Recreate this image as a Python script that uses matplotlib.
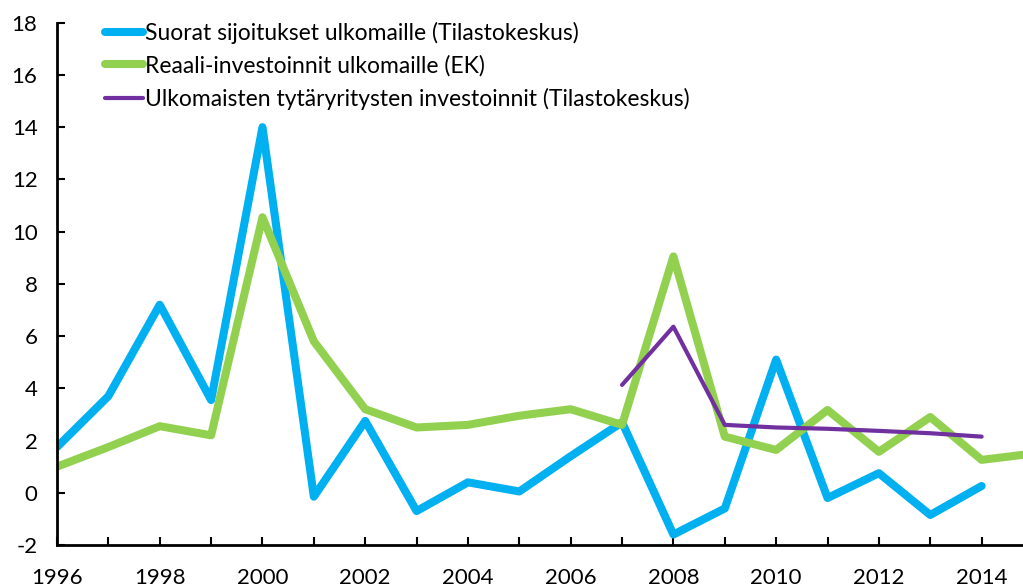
import matplotlib
matplotlib.use("Agg")
import matplotlib.pyplot as plt

years = list(range(1996, 2016))
suorat = [1.75, 3.7, 7.2, 3.55, 14.0, -0.15, 2.75, -0.7, 0.4, 0.05, 1.4, 2.7,
          -1.6, -0.6, 5.1, -0.2, 0.75, -0.85, 0.26]
reaali = [1.0, 1.75, 2.55, 2.2, 10.55, 5.8, 3.2, 2.5, 2.6, 2.95, 3.2, 2.6,
          9.05, 2.15, 1.64, 3.17, 1.57, 2.9, 1.26, 1.5]
tytar_years = list(range(2007, 2015))
tytar = [4.13, 6.36, 2.6, 2.5, 2.45, 2.37, 2.28, 2.15]
labels = ["Suorat sijoitukset ulkomaille (Tilastokeskus)",
          "Reaali-investoinnit ulkomaille (EK)",
          "Ulkomaisten tytäryritysten investoinnit (Tilastokeskus)"]

plt.rcParams['font.family'] = ['Lato', 'DejaVu Sans']
W, H = 1023, 587
fig = plt.figure(figsize=(W/100, H/100), dpi=100)
left, right, bottom, top = 57, 1033, 545, 22.7
ax = fig.add_axes([left/W, 1-bottom/H, (right-left)/W, (bottom-top)/H])

ax.plot(years[:len(suorat)], suorat, color='#00B0F0', lw=5.8, solid_capstyle='round', solid_joinstyle='round', label=labels[0])
ax.plot(years, reaali, color='#92D050', lw=5.8, solid_capstyle='round', solid_joinstyle='round', label=labels[1])
ax.plot(tytar_years, tytar, color='#7030A0', lw=3, solid_capstyle='round', solid_joinstyle='round', label=labels[2])

ax.set_xlim(1996, 2015)
ax.set_ylim(-2, 18)
ax.set_yticks(range(-2, 19, 2))
ax.set_yticklabels([str(v) for v in range(-2, 19, 2)])
ax.set_xticks(range(1996, 2016))
ax.set_xticklabels([str(y) if (y % 2 == 0) else "" for y in range(1996, 2016)])
ax.spines['top'].set_visible(False)
ax.spines['right'].set_visible(False)
for s in ['left', 'bottom']:
    ax.spines[s].set_linewidth(2)
ax.tick_params(axis='both', direction='in', length=6, width=1.5, labelsize=16)
ax.tick_params(axis='x', pad=16.5)
ax.tick_params(axis='y', pad=14)

leg = ax.legend(loc='upper left', bbox_to_anchor=((105-left)/(right-left), 1.002), frameon=False,
                fontsize=16.5, handlelength=1.65, handletextpad=0.1, labelspacing=0.49,
                borderaxespad=0, borderpad=0)
fig.savefig("out.png", dpi=100)
